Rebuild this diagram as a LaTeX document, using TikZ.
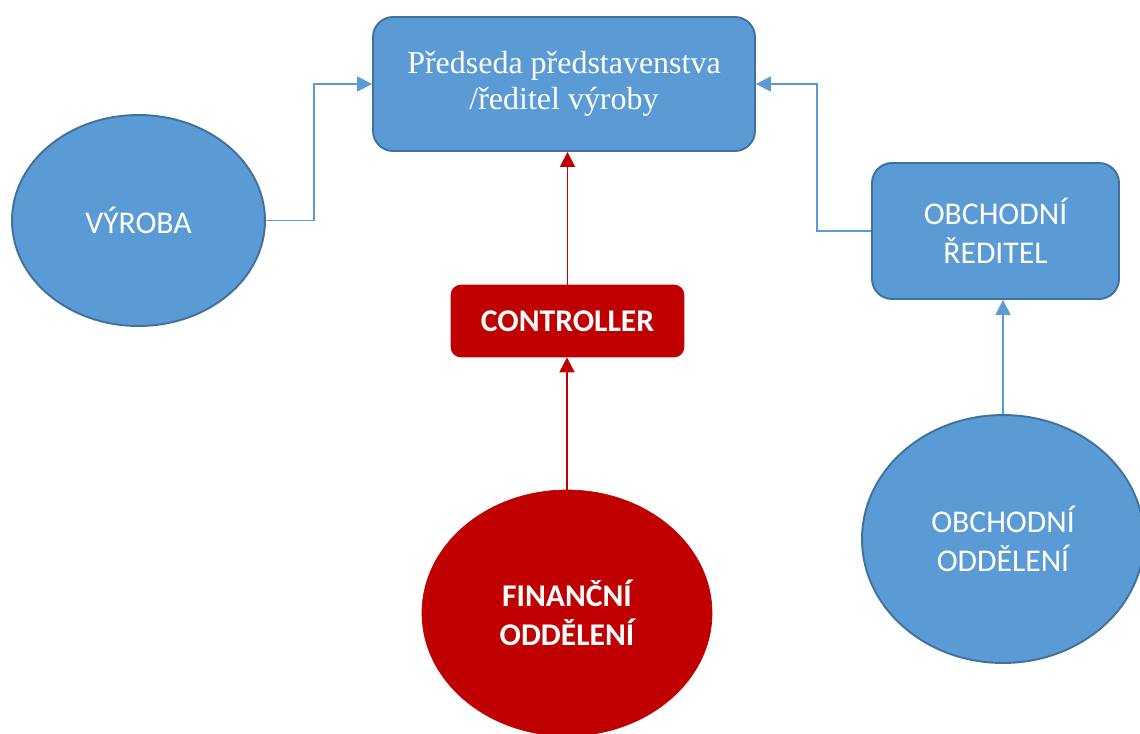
\documentclass[tikz,border=0pt]{standalone}
\usepackage{fontspec}
\setmainfont{Liberation Serif}
\newfontfamily\calibri{Carlito}
\usepackage{xcolor}
\usetikzlibrary{arrows.meta}
\usetikzlibrary{shapes.geometric}
\definecolor{boxblue}{RGB}{91,155,213}
\definecolor{lineblue}{RGB}{65,113,156}
\definecolor{boxred}{RGB}{192,0,0}
\tikzset{
    tnode/.style = {align=center, inner sep=0pt, text centered, text=white},
    blue_box/.style = {tnode, rectangle, rounded corners=0.4cm, draw=lineblue, fill=boxblue, line width=1.1pt},
    blue_ell/.style = {tnode, ellipse, draw=lineblue, fill=boxblue, line width=1.1pt, font=\calibri\fontsize{18}{22}\selectfont},
    red_box/.style = {tnode, rectangle, rounded corners=0.2cm, draw=boxred, fill=boxred, font=\calibri\bfseries\fontsize{18}{22}\selectfont},
    red_ell/.style = {tnode, ellipse, draw=boxred, fill=boxred, font=\calibri\bfseries\fontsize{18}{22}\selectfont},
    blue_edge/.style = {-{Triangle[length=0.3cm, width=0.3cm]}, draw=boxblue, line width=0.8pt},
    red_edge/.style = {-{Triangle[length=0.3cm, width=0.3cm]}, draw=boxred, line width=1pt}
}

\begin{document}
\begin{tikzpicture}[x=0.02cm, y=-0.02cm]
    \useasboundingbox (0,0) rectangle (1140,734);

    \node (chair) at (564,84) [blue_box, minimum width=7.64cm, minimum height=2.68cm, font=\fontsize{18.2}{20.5}\selectfont]
        {Předseda představenstva\\/ředitel výroby};
    \node (vyroba) at (138.5,220.5) [blue_ell, minimum width=5.06cm, minimum height=4.22cm] {VÝROBA};
    \node (reditel) at (995.5,231) [blue_box, minimum width=4.94cm, minimum height=2.72cm, font=\calibri\fontsize{18}{22}\selectfont]
        {OBCHODNÍ\\ŘEDITEL};
    \node (controller) at (567.5,321) [red_box, minimum width=4.66cm, minimum height=1.44cm] {CONTROLLER};
    \node (financni) at (567,613) [red_ell, minimum width=5.8cm, minimum height=4.92cm] {FINANČNÍ\\ODDĚLENÍ};
    \node (obchodni) at (1003,539) [blue_ell, minimum width=5.64cm, minimum height=4.96cm] {OBCHODNÍ\\ODDĚLENÍ};

    \draw [blue_edge] (vyroba.east) -- ++(48,0) |- (chair.west);
    \draw [blue_edge] (reditel.west) -- ++(-54,0) |- (chair.east);
    \draw [red_edge] (controller.north) -- (controller.north |- chair.south);
    \draw [red_edge] (financni.north) -- (financni.north |- controller.south);
    \draw [blue_edge] (obchodni.north) -- (obchodni.north |- reditel.south);
\end{tikzpicture}
\end{document}
